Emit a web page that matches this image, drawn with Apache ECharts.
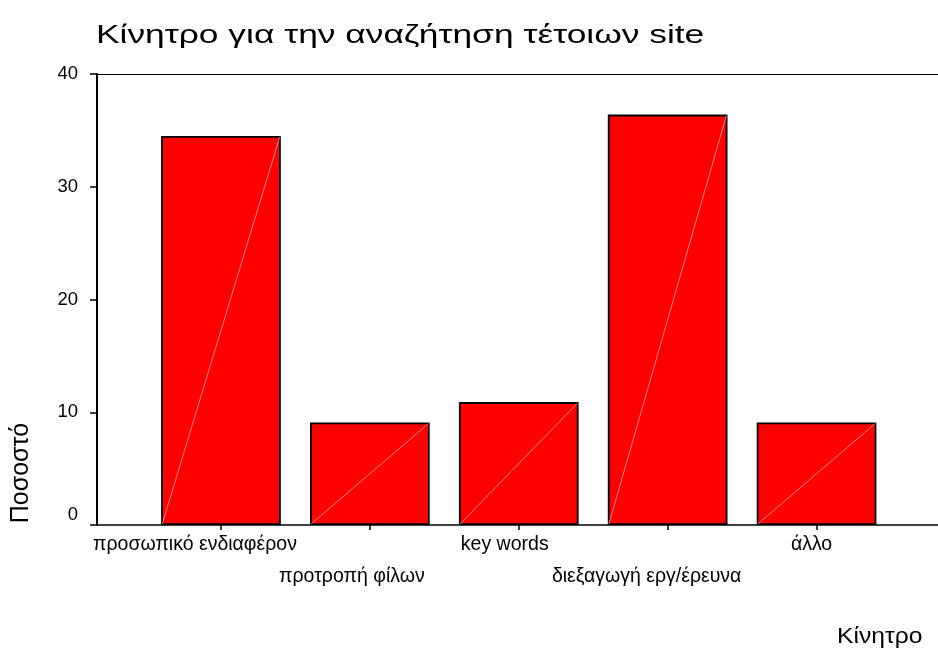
<!DOCTYPE html>
<html>
<head>
<meta charset="utf-8">
<script src="https://cdn.jsdelivr.net/npm/echarts@6/dist/echarts.min.js"></script>
<style>
  html, body { margin: 0; padding: 0; background: #fff; }
  #chart { width: 938px; height: 648px; }
</style>
</head>
<body>
<div id="chart"></div>
<script>
const chartTitle = 'Κίνητρο για την αναζήτηση τέτοιων site';
const xAxisTitle = 'Κίνητρο';
const yAxisTitle = 'Ποσοστό';
const categories = ['προσωπικό ενδιαφέρον', 'προτροπή φίλων', 'key words', 'διεξαγωγή εργ/έρευνα', 'άλλο'];
const percents = [34.5, 9.1, 10.9, 36.4, 9.1];
const yTicks = [0, 10, 20, 30, 40];

// label styling (leftward shift of each category label, px)
const labelShift = [26, 18, 14, 21, 5];

const FONT = '"Liberation Sans", Arial, sans-serif';
const BAR_W = 121.5;
const LABEL_SIZE = 19.5;

const rich = {};
labelShift.forEach(function (s, i) {
  rich['s' + i] = { fontFamily: FONT, fontSize: LABEL_SIZE, color: '#000', lineHeight: 32,
                    padding: [0, 2 * s, 0, 0] };
});

const chart = echarts.init(document.getElementById('chart'), null, { renderer: 'canvas' });
chart.setOption({
  backgroundColor: '#ffffff',
  animation: false,
  graphic: [
    { type: 'text', x: 96, y: 23, scaleX: 1.36,
      style: { text: chartTitle, fontFamily: FONT, fontSize: 26, fill: '#000',
               align: 'left', verticalAlign: 'top' } },
    { type: 'text', x: 837, y: 626, scaleX: 1.12,
      style: { text: xAxisTitle, fontFamily: FONT, fontSize: 22, fill: '#000',
               align: 'left', verticalAlign: 'top' } },
    { type: 'text', x: 21, y: 473, rotation: Math.PI / 2,
      style: { text: yAxisTitle, fontFamily: FONT, fontSize: 25, fill: '#000',
               align: 'center', verticalAlign: 'middle' } }
  ],
  grid: [
    { left: 146.5, right: 47, top: 74, bottom: 123 },
    { left: 97, right: 0, top: 74, bottom: 123 }
  ],
  xAxis: [
    {
      type: 'category', gridIndex: 0, data: categories, boundaryGap: true,
      axisLine: { show: false },
      axisTick: { show: true, alignWithLabel: true, interval: 0, inside: false, length: 5,
                  lineStyle: { color: '#000', width: 1.5 } },
      axisLabel: {
        show: true, interval: 0, margin: 4, showMinLabel: true, showMaxLabel: true, hideOverlap: false,
        fontFamily: FONT, fontSize: LABEL_SIZE, color: '#000', lineHeight: 32,
        formatter: function (v, i) {
          const t = '{s' + i + '|' + v + '}';
          return i % 2 ? '\n' + t : t;
        },
        rich: rich
      },
      splitLine: { show: false }
    },
    {
      type: 'value', gridIndex: 1, min: 0, max: 1, position: 'bottom',
      splitLine: { show: false },
      axisLine: { show: true, onZero: false, lineStyle: { color: '#000', width: 1.5 } },
      axisTick: { show: false }, axisLabel: { show: false }
    },
    {
      type: 'value', gridIndex: 1, min: 0, max: 1, position: 'top',
      splitLine: { show: false },
      axisLine: { show: true, onZero: false, lineStyle: { color: '#000', width: 1.2 } },
      axisTick: { show: false }, axisLabel: { show: false }
    }
  ],
  yAxis: [
    {
      type: 'value', gridIndex: 0, min: yTicks[0], max: yTicks[yTicks.length - 1],
      interval: yTicks[1] - yTicks[0], offset: 49.5,
      splitLine: { show: false },
      axisLine: { show: true, lineStyle: { color: '#000', width: 2 } },
      axisTick: { show: true, inside: false, length: 7, lineStyle: { color: '#000', width: 1.5 } },
      axisLabel: {
        margin: 19, fontFamily: FONT, fontSize: 18.5, color: '#000',
        showMinLabel: true, showMaxLabel: true,
        formatter: function (v) { return v === 0 ? '{z|0}' : String(v); },
        rich: { z: { fontFamily: FONT, fontSize: 18.5, color: '#000', padding: [0, 0, 20, 0] } }
      }
    },
    {
      type: 'value', gridIndex: 1, min: 0, max: 40, show: false
    }
  ],
  series: [
    {
      type: 'bar', xAxisIndex: 0, yAxisIndex: 0, data: percents, barWidth: BAR_W - 1.8,
      itemStyle: { color: '#ff0000', borderColor: '#000', borderWidth: 1.8 },
      z: 2
    },
    {
      type: 'custom', xAxisIndex: 0, yAxisIndex: 0, data: percents, z: 3, silent: true,
      renderItem: function (params, api) {
        const x = params.dataIndex, y = api.value(1);
        const p0 = api.coord([x, 0]);
        const p1 = api.coord([x, y]);
        const hw = (BAR_W - 4) / 2;
        return {
          type: 'line',
          shape: { x1: p0[0] - hw, y1: p0[1] - 1, x2: p1[0] + hw, y2: p1[1] + 1 },
          style: { stroke: 'rgba(255,190,190,0.85)', lineWidth: 0.8 }
        };
      }
    }
  ]
});
</script>
</body>
</html>
